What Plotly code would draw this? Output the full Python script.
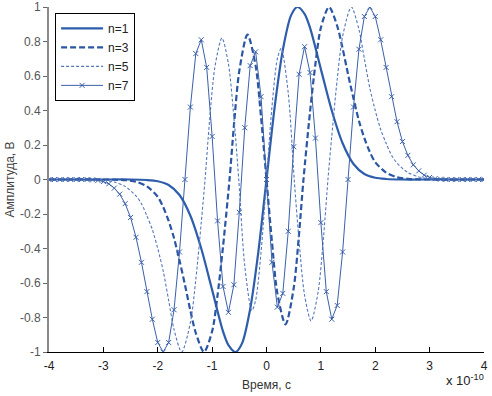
import plotly.graph_objects as go

# Time axis in units of 1e-10 s
n1_x = [-4, -3, -2.5, -2.2, -2.0, -1.8, -1.6, -1.4, -1.2, -1.0, -0.8, -0.7, -0.57, -0.45, -0.3, -0.15,
        0, 0.15, 0.3, 0.45, 0.57, 0.7, 0.8, 1.0, 1.2, 1.4, 1.6, 1.8, 2.0, 2.2, 2.5, 3, 4]
n1_y = [0, 0, 0, -0.003, -0.01, -0.032, -0.09, -0.21, -0.40, -0.64, -0.88, -0.96, -1.0, -0.95, -0.75, -0.42,
        0, 0.42, 0.75, 0.95, 1.0, 0.96, 0.88, 0.64, 0.40, 0.21, 0.09, 0.032, 0.01, 0.003, 0, 0, 0]

n3_x = [-4, -3, -2.8, -2.6, -2.4, -2.2, -2.0, -1.9, -1.8, -1.7, -1.6, -1.5, -1.4, -1.3, -1.15, -1.0, -0.9,
        -0.8, -0.68, -0.6, -0.5, -0.35, -0.2, -0.1, 0, 0.1, 0.2, 0.35, 0.5, 0.6, 0.68, 0.8, 0.9, 1.0, 1.15,
        1.3, 1.4, 1.5, 1.6, 1.7, 1.8, 1.9, 2.0, 2.2, 2.4, 2.6, 2.8, 3, 4]
n3_y = [0, 0, -0.001, -0.004, -0.013, -0.04, -0.10, -0.16, -0.24, -0.34, -0.47, -0.61, -0.76, -0.89, -1.0,
        -0.88, -0.67, -0.39, 0, 0.31, 0.63, 0.84, 0.66, 0.36, 0, -0.36, -0.66, -0.84, -0.63, -0.31, 0, 0.39,
        0.67, 0.88, 1.0, 0.89, 0.76, 0.61, 0.47, 0.34, 0.24, 0.16, 0.10, 0.04, 0.013, 0.004, 0.001, 0, 0]

n5_x = [-4.0, -3.2, -3.0, -2.8, -2.6, -2.4, -2.3, -2.2, -2.1, -2.0, -1.9, -1.8, -1.7, -1.56, -1.4, -1.3,
        -1.2, -1.13, -1.05, -0.95, -0.82, -0.7, -0.6, -0.51, -0.4, -0.27, -0.2, -0.1,
        0,
        0.1, 0.2, 0.27, 0.4, 0.51, 0.6, 0.7, 0.82, 0.95, 1.05, 1.13, 1.2, 1.3, 1.4, 1.56, 1.7, 1.8, 1.9,
        2.0, 2.1, 2.2, 2.3, 2.4, 2.6, 2.8, 3.0, 3.2, 4.0]
n5_y = [0, -0.001, -0.004, -0.015, -0.04, -0.095, -0.14, -0.21, -0.29, -0.40, -0.53, -0.70, -0.87, -1.0,
        -0.83, -0.58, -0.25, 0, 0.33, 0.65, 0.82, 0.67, 0.36, 0, -0.50, -0.76, -0.70, -0.42,
        0,
        0.42, 0.70, 0.76, 0.50, 0, -0.36, -0.67, -0.82, -0.65, -0.33, 0, 0.25, 0.58, 0.83, 1.0, 0.87, 0.70,
        0.53, 0.40, 0.29, 0.21, 0.14, 0.095, 0.04, 0.015, 0.004, 0.001, 0]

n7_x = [-4.0, -3.9, -3.8, -3.7, -3.6, -3.5, -3.4, -3.3, -3.2, -3.1, -3.0, -2.9, -2.8, -2.7, -2.6, -2.5,
        -2.4, -2.3, -2.2, -2.1, -2.0, -1.9, -1.8, -1.7, -1.6, -1.5, -1.4, -1.3, -1.2, -1.1, -1.0, -0.9,
        -0.8, -0.7, -0.6, -0.5, -0.4, -0.3, -0.2, -0.1, 0.0, 0.1, 0.2, 0.3, 0.4, 0.5, 0.6, 0.7, 0.8, 0.9,
        1.0, 1.1, 1.2, 1.3, 1.4, 1.5, 1.6, 1.7, 1.8, 1.9, 2.0, 2.1, 2.2, 2.3, 2.4, 2.5, 2.6, 2.7, 2.8,
        2.9, 3.0, 3.1, 3.2, 3.3, 3.4, 3.5, 3.6, 3.7, 3.8, 3.9, 4.0]
n7_y = [0, 0, 0, 0, 0, 0, 0, 0, -0.002, -0.005, -0.012, -0.025, -0.05, -0.085, -0.14, -0.22,
        -0.335, -0.48, -0.65, -0.81, -0.945, -1.0, -0.945, -0.755, -0.42, 0.0, 0.42, 0.73, 0.81, 0.65,
        0.25, -0.24, -0.62, -0.77, -0.61, -0.19, 0.30, 0.66, 0.74, 0.48, 0.0, -0.48, -0.74, -0.66, -0.30,
        0.19, 0.61, 0.77, 0.62, 0.24, -0.25, -0.65, -0.81, -0.73, -0.42, 0.0, 0.42, 0.755, 0.945, 1.0,
        0.945, 0.81, 0.65, 0.48, 0.335, 0.22, 0.14, 0.085, 0.05, 0.025, 0.012, 0.005, 0.002,
        0, 0, 0, 0, 0, 0, 0, 0]

x_ticks = [-4, -3, -2, -1, 0, 1, 2, 3, 4]
y_ticks = [-1, -0.8, -0.6, -0.4, -0.2, 0, 0.2, 0.4, 0.6, 0.8, 1]
y_tick_text = ["-1", "-0.8", "-0.6", "-0.4", "-0.2", "0", "0.2", "0.4", "0.6", "0.8", "1"]

FONT = "Liberation Sans, Arial, sans-serif"

fig = go.Figure()
fig.add_trace(go.Scatter(x=n1_x, y=n1_y, name="n=1", mode="lines",
                         line=dict(color="#2d5dab", width=2.2, shape="spline", smoothing=0.8)))
fig.add_trace(go.Scatter(x=n3_x, y=n3_y, name="n=3", mode="lines",
                         line=dict(color="#2a56a3", width=2.2, dash="6px,3px", shape="spline", smoothing=0.8)))
fig.add_trace(go.Scatter(x=n5_x, y=n5_y, name="n=5", mode="lines",
                         line=dict(color="#5577bb", width=1.1, dash="3px,2px", shape="spline", smoothing=0.8)))
fig.add_trace(go.Scatter(x=n7_x, y=n7_y, name="n=7", mode="lines+markers",
                         line=dict(color="#3a60aa", width=1),
                         marker=dict(symbol="x-thin", size=5, line=dict(color="#3a60aa", width=1))))

fig.update_layout(
    width=492, height=396,
    margin=dict(l=49, r=8, t=7, b=44, autoexpand=False),
    paper_bgcolor="white", plot_bgcolor="white",
    font=dict(family=FONT, size=12, color="#222"),
    showlegend=True,
    legend=dict(x=0.014, y=0.983, xanchor="left", yanchor="top",
                bgcolor="white", bordercolor="black", borderwidth=1,
                font=dict(family=FONT, size=12, color="#222"),
                itemwidth=42, tracegroupgap=0),
    xaxis=dict(range=[-4.0001, 4.0001], tickvals=x_ticks, ticktext=[str(v) for v in x_ticks],
               automargin=False,
               showgrid=False, zeroline=False, showline=True, linecolor="black", linewidth=1,
               ticks="inside", ticklen=5, tickcolor="black", ticklabelstandoff=3,
               tickfont=dict(family=FONT, size=12, color="#222"),
               title=dict(text="Время, с", font=dict(family=FONT, size=12, color="#333"), standoff=8)),
    yaxis=dict(range=[-1, 1], tickvals=y_ticks, ticktext=y_tick_text,
               automargin=False,
               showgrid=False, zeroline=False, showline=True, linecolor="#8a8a8a", linewidth=2,
               ticks="outside", ticklen=4, tickcolor="#666",
               tickfont=dict(family=FONT, size=12, color="#555"),
               title=dict(text="Амплитуда, В", font=dict(family=FONT, size=12, color="#444"), standoff=3)),
)

fig.add_annotation(xref="paper", yref="paper", x=1.005, y=-0.081, xanchor="right", yanchor="middle",
                   text="x 10<sup>-10</sup>", showarrow=False,
                   font=dict(family=FONT, size=13, color="#222"))

fig.write_html("out.html", config={"displayModeBar": False},
               post_script="document.body.style.margin='0';document.body.style.padding='0';")
